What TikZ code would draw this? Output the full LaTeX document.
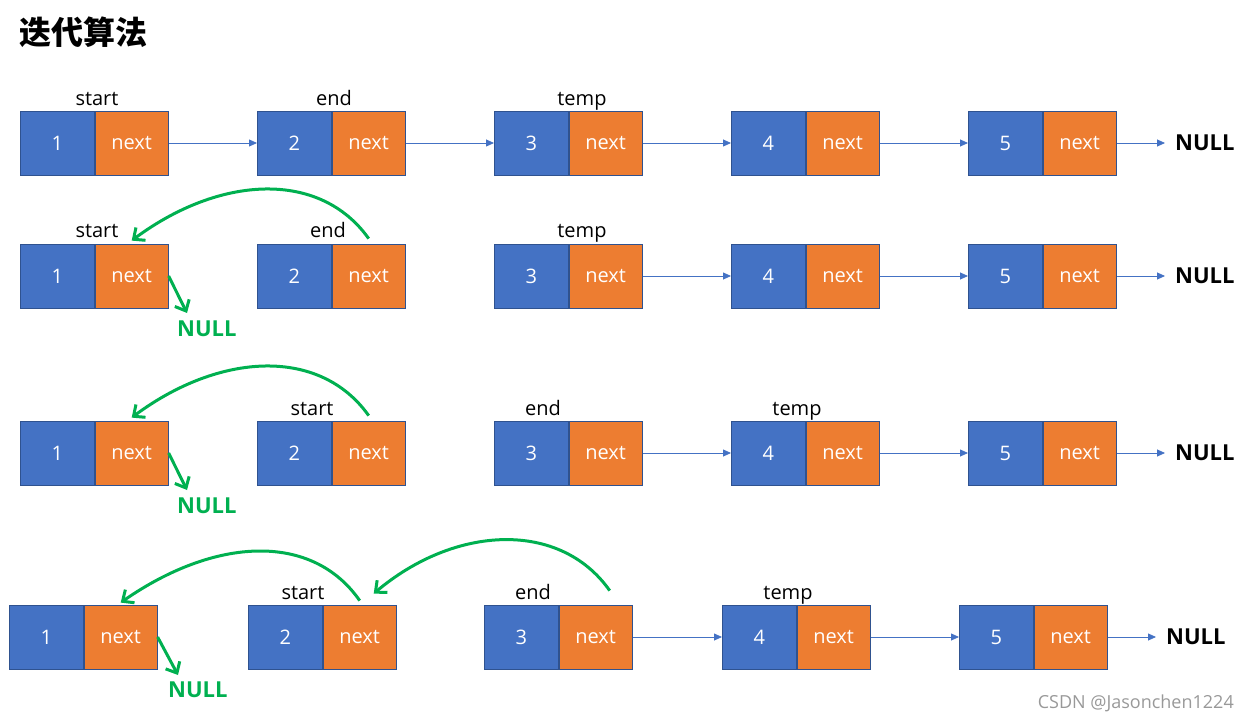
\documentclass[tikz,border=0pt]{standalone}
\usepackage{fontspec}
\setmainfont{Open Sans}
\newfontfamily\cjk{Noto Sans CJK SC}
\usetikzlibrary{arrows.meta}
\definecolor{cellblue}{HTML}{4472C4}
\definecolor{cellorange}{HTML}{ED7D31}
\definecolor{cellline}{HTML}{2F528F}
\definecolor{revgreen}{HTML}{00B050}
\begin{document}
\begin{tikzpicture}[x=1pt,y=-1pt,
    val/.style={draw=cellline,line width=0.8pt,fill=cellblue,text=white,minimum width=74pt,minimum height=64pt,inner sep=0pt,anchor=west,font=\fontsize{20}{24}\selectfont},
    nxt/.style={val,fill=cellorange,minimum width=73pt},
    lab/.style={font=\fontsize{20}{24}\selectfont,inner sep=0pt,anchor=base},
    nul/.style={font=\fontsize{22}{26}\selectfont\bfseries,inner sep=0pt,anchor=west},
    link/.style={cellblue,line width=0.8pt,-{Triangle[length=8pt,width=7pt]}},
    rev/.style={revgreen,line width=3pt,-{Straight Barb[length=9pt,width=16pt]}}]
    \useasboundingbox (0,0) rectangle (1249,719);
    \node [anchor=west,inner sep=0pt,font=\cjk\bfseries\fontsize{32}{36}\selectfont] (title) at (19,32) {迭代算法};
    \foreach \r/\y in {1/143,2/276,3/453} {
        \foreach \i/\x in {1/20,2/257,3/494,4/731,5/968} {
            \node [val] (r\r v\i) at (\x,\y) {\i};
            \node [nxt] (r\r n\i) at (r\r v\i.east) {next};
        }
    }
    \foreach \i/\x in {1/9,2/248,3/484,4/722,5/959} {
        \node [val] (r4v\i) at (\x,637) {\i};
        \node [nxt] (r4n\i) at (r4v\i.east) {next};
    }
    \node [lab] (s1) at (97,106) {start};
    \node [lab] (e1) at (334,106) {end};
    \node [lab] (t1) at (582,106) {temp};
    \node [lab] (s2) at (97,238) {start};
    \node [lab] (e2) at (328,238) {end};
    \node [lab] (t2) at (582,238) {temp};
    \node [lab] (s3) at (312,415) {start};
    \node [lab] (e3) at (543,415) {end};
    \node [lab] (t3) at (797,415) {temp};
    \node [lab] (s4) at (303,599) {start};
    \node [lab] (e4) at (533,599) {end};
    \node [lab] (t4) at (788,599) {temp};
    \node [nul] (null1) at (1175,143) {NULL};
    \node [nul] (null2) at (1175,276) {NULL};
    \node [nul] (null3) at (1175,453) {NULL};
    \node [nul] (null4) at (1166,637) {NULL};
    \node [nul,text=revgreen] (g2) at (177,329) {NULL};
    \node [nul,text=revgreen] (g3) at (177,506) {NULL};
    \node [nul,text=revgreen] (g4) at (168,690) {NULL};
    \coordinate (c2) at (187,313);
    \coordinate (c3) at (187,490);
    \coordinate (c4) at (178,675);
    \draw [link] (r1n1) -- (r1v2);
    \draw [link] (r1n2) -- (r1v3);
    \foreach \r in {1,2,3,4} {
        \draw [link] (r\r n3) -- (r\r v4);
        \draw [link] (r\r n4) -- (r\r v5);
        \draw [link,shorten >=10pt] (r\r n5) -- (null\r);
    }
    \draw [rev] (r2n1.east) -- (c2);
    \draw [rev] (r3n1.east) -- (c3);
    \draw [rev] (r4n1.east) -- (c4);
    \draw [rev] ([yshift=5pt]r2n2.north) .. controls (320,170) and (220,175) .. ([yshift=3pt]r2n1.north);
    \draw [rev] ([yshift=5pt]r3n2.north) .. controls (320,347) and (220,352) .. ([yshift=3pt]r3n1.north);
    \draw [rev] ([yshift=4pt]r4n2.north) .. controls (312,532) and (215,537) .. ([yshift=2pt]r4n1.north);
    \draw [rev] ([xshift=14pt,yshift=14pt]r4n3.north) .. controls (560,520) and (455,525) .. ([xshift=14pt,yshift=11pt]r4n2.north);
    \node [anchor=east,inner sep=0pt,text=black!40,font=\fontsize{18}{20}\selectfont] (mark) at (1234,703) {CSDN @Jasonchen1224};
\end{tikzpicture}
\end{document}
